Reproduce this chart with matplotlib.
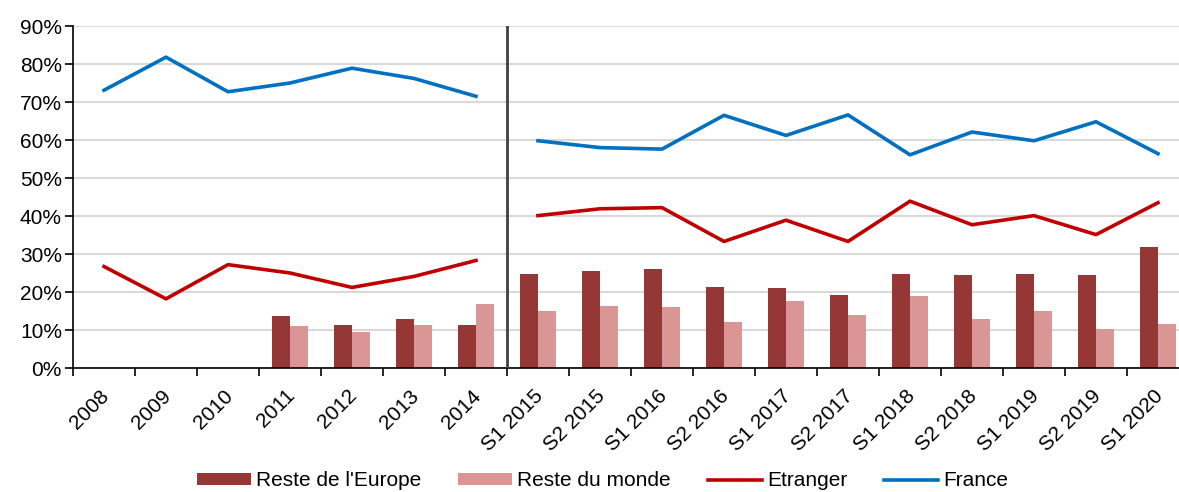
import matplotlib
matplotlib.use("Agg")
import matplotlib.pyplot as plt
import matplotlib.transforms as mtransforms
import numpy as np
from matplotlib.ticker import PercentFormatter

categories = ["2008", "2009", "2010", "2011", "2012", "2013", "2014",
              "S1 2015", "S2 2015", "S1 2016", "S2 2016", "S1 2017", "S2 2017",
              "S1 2018", "S2 2018", "S1 2019", "S2 2019", "S1 2020"]

france = [73.1, 81.8, 72.7, 75.0, 78.9, 76.2, 71.5,
          59.8, 58.0, 57.6, 66.5, 61.2, 66.6, 56.1, 62.1, 59.8, 64.8, 56.4]
etranger = [26.7, 18.2, 27.2, 25.0, 21.2, 24.1, 28.3,
            40.1, 41.9, 42.2, 33.3, 38.9, 33.3, 43.9, 37.7, 40.1, 35.1, 43.5]
reste_europe = [np.nan, np.nan, np.nan, 13.7, 11.3, 12.8, 11.2,
                24.7, 25.6, 26.1, 21.2, 21.0, 19.1, 24.8, 24.6, 24.8, 24.6, 31.8]
reste_monde = [np.nan, np.nan, np.nan, 11.1, 9.5, 11.2, 16.8,
               15.1, 16.2, 16.0, 12.1, 17.7, 13.9, 18.9, 12.9, 15.1, 10.3, 11.5]

plt.rcParams['font.family'] = ['Liberation Sans', 'DejaVu Sans']

W, H = 1179, 492
fig = plt.figure(figsize=(W / 100, H / 100), dpi=100)
ax = fig.add_axes([73 / W, 124 / H, (1189 - 73) / W, (466 - 124) / H])

x = np.arange(len(categories))
bw = 0.29
c_dark = "#953735"
c_light = "#D99694"
c_red = "#C00000"
c_blue = "#0070C0"
fs = 15

b1 = ax.bar(x - bw / 2, np.array(reste_europe) / 100, width=bw, color=c_dark,
            label="Reste de l'Europe", zorder=2)
b2 = ax.bar(x + bw / 2, np.array(reste_monde) / 100, width=bw, color=c_light,
            label="Reste du monde", zorder=2)

n_annual = 7
xa, xs = x[:n_annual], x[n_annual:]
fr = np.array(france) / 100
et = np.array(etranger) / 100
l_et, = ax.plot(xa, et[:n_annual], color=c_red, lw=2.6, label="Etranger", zorder=3)
ax.plot(xs, et[n_annual:], color=c_red, lw=2.6, zorder=3)
l_fr, = ax.plot(xa, fr[:n_annual], color=c_blue, lw=2.6, label="France", zorder=3)
ax.plot(xs, fr[n_annual:], color=c_blue, lw=2.6, zorder=3)

ax.axvline(n_annual - 0.5, ymin=0, ymax=1, color="#404040", lw=2, zorder=4)

ax.set_xlim(-0.5, len(categories) - 0.5)
ax.set_ylim(0, 0.9)
ax.set_yticks(np.arange(0, 0.91, 0.1))
ax.yaxis.set_major_formatter(PercentFormatter(1.0, decimals=0))
ax.grid(axis="y", color="#d9d9d9", lw=1.5, zorder=0)
ax.set_axisbelow(True)

ax.set_xticks(np.arange(-0.5, len(categories), 1.0))
ax.set_xticklabels([])
ax.set_xticks(x, minor=True)
ax.set_xticklabels(categories, minor=True, rotation=45, ha="right",
                   va="top", rotation_mode="anchor", fontsize=fs)
ax.tick_params(axis="x", which="minor", length=0, pad=13)
ax.tick_params(axis="x", which="major", length=6, width=1.2, direction="out")
ax.tick_params(axis="y", length=6, width=1.2, labelsize=fs, pad=2)
offset = mtransforms.ScaledTranslation(-5 / 100, 0, fig.dpi_scale_trans)
for lab in ax.get_xticklabels(minor=True):
    lab.set_transform(lab.get_transform() + offset)

for s in ["top", "right"]:
    ax.spines[s].set_visible(False)
ax.spines["left"].set_linewidth(1.2)
ax.spines["bottom"].set_linewidth(1.2)

fig.legend([b1, b2, l_et, l_fr],
           ["Reste de l'Europe", "Reste du monde", "Etranger", "France"],
           loc="center", ncol=4, frameon=False,
           bbox_to_anchor=(0.5 + 13 / W, 11 / H), fontsize=fs, handlelength=2.6,
           handleheight=0.5, handletextpad=0.25, columnspacing=1.75)

fig.savefig("out.png", dpi=100)
